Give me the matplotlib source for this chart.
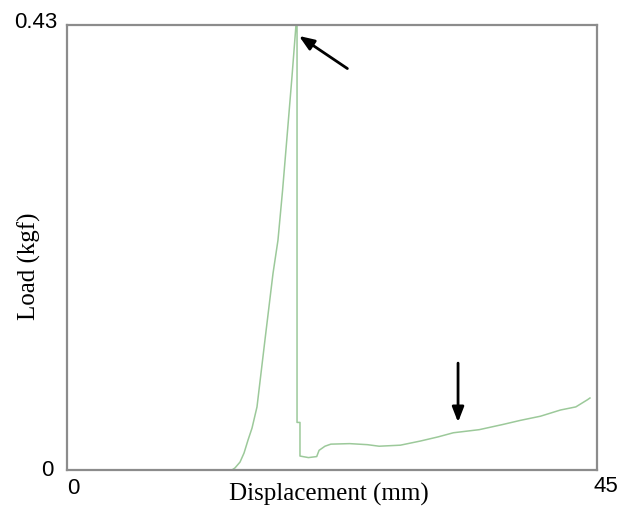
import matplotlib.pyplot as plt
import matplotlib.transforms as mtransforms

# load-displacement curve
disp = [0, 14.0, 14.26, 14.69, 15.03, 15.37, 15.71, 16.13, 16.81, 17.49, 17.91, 18.3, 18.68, 19.1, 19.44,
        19.53, 19.53, 19.78, 19.78, 20.5, 21.2, 21.4, 21.9, 22.4, 24.0, 25.5, 26.5, 28.3, 30, 31.5,
        32.8, 35, 37, 38.5, 40.2, 41.9, 43.2, 44.2, 44.4]
load = [0, 0, 0.002, 0.0077, 0.0164, 0.029, 0.0406, 0.061, 0.126, 0.190, 0.222, 0.27, 0.322, 0.38, 0.43,
        0.43, 0.046, 0.046, 0.0135, 0.012, 0.013, 0.019, 0.023, 0.025, 0.0255, 0.0245, 0.023, 0.024, 0.028, 0.032,
        0.036, 0.039, 0.044, 0.048, 0.052, 0.058, 0.061, 0.068, 0.0696]

xticks = [0, 45]
yticks = [0, 0.43]
xticklabels = ['0', '45']
yticklabels = ['0', '0.43']

fig = plt.figure(figsize=(6.21, 5.12), dpi=100)
ax = fig.add_axes([0.1079, 0.082, 0.8535, 0.869])

ax.plot(disp, load, color='#9cc99a', lw=1.1)

ax.set_xlim(0, 45)
ax.set_ylim(0, 0.43)
ax.set_xticks(xticks)
ax.set_yticks(yticks)
ax.set_xticklabels(xticklabels, family='Liberation Sans', fontsize=16)
ax.set_yticklabels(yticklabels, family='Liberation Sans', fontsize=16)
ax.tick_params(axis='x', length=0, pad=6)
ax.tick_params(axis='y', length=0, pad=9)
for s in ax.spines.values():
    s.set_color('#8c8c8c')
    s.set_linewidth(1.6)

# nudge tick labels the way the original sits
def nudge(lab, dx, dy):
    lab.set_transform(lab.get_transform() +
                      mtransforms.ScaledTranslation(dx / 100, dy / 100, fig.dpi_scale_trans))

xl = ax.get_xticklabels()
nudge(xl[0], 6, 0)
nudge(xl[1], 9, 2)
yl = ax.get_yticklabels()
nudge(yl[0], -1, 2)
nudge(yl[1], 3, 5)

ax.set_xlabel('Displacement (mm)', family='Liberation Serif', fontsize=18)
ax.set_ylabel('Load (kgf)', family='Liberation Serif', fontsize=18)
ax.xaxis.label.set_va('center')
ax.yaxis.label.set_va('center')
ax.xaxis.set_label_coords(0.494, -0.056)
ax.yaxis.set_label_coords(-0.072, 0.458)

# arrows marking the peak and the plateau
ax.annotate('', xy=(19.5, 0.421), xytext=(24.0, 0.3865),
            arrowprops=dict(arrowstyle='-|>,head_length=0.9,head_width=0.35', color='black', lw=2))
ax.annotate('', xy=(33.2, 0.0435), xytext=(33.2, 0.106),
            arrowprops=dict(arrowstyle='-|>,head_length=0.9,head_width=0.35', color='black', lw=2))

fig.savefig('out.png', dpi=100)
